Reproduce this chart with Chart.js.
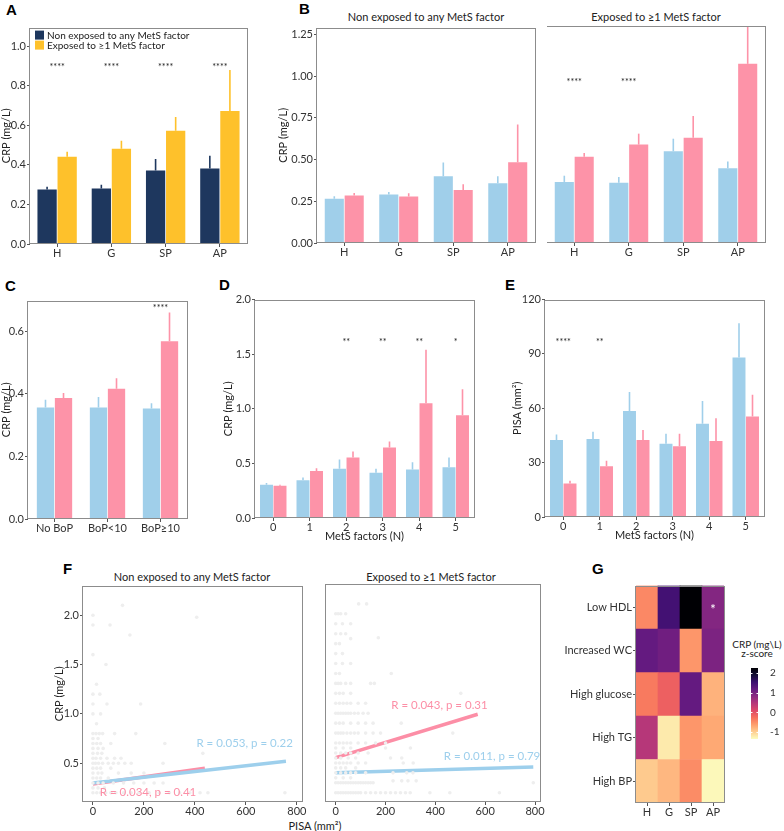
<!DOCTYPE html>
<html>
<head>
<meta charset="utf-8">
<script src="https://cdn.jsdelivr.net/npm/chart.js@4.4.1/dist/chart.umd.min.js"></script>
<style>
body { margin: 0; background: #fff; width: 784px; height: 831px; position: relative; overflow: hidden; font-family: Lato, sans-serif; }
canvas { position: absolute; }
.lbl { position: absolute; font: bold 15px "Liberation Sans", Arial, sans-serif; line-height: 1; color: #000; }
.ttl { position: absolute; font: 11px Lato, sans-serif; line-height: 1; color: #222; white-space: nowrap; transform: translateX(-50%); }
</style>
</head>
<body>
<div class="lbl" style="left:6px;top:2px">A</div>
<div class="lbl" style="left:299px;top:1px">B</div>
<div class="lbl" style="left:5px;top:278px">C</div>
<div class="lbl" style="left:219px;top:277px">D</div>
<div class="lbl" style="left:505px;top:277px">E</div>
<div class="lbl" style="left:63px;top:561px">F</div>
<div class="lbl" style="left:592px;top:561px">G</div>

<div class="ttl" style="left:426px;top:11px">Non exposed to any MetS factor</div>
<div class="ttl" style="left:656px;top:11px">Exposed to ≥1 MetS factor</div>
<div class="ttl" style="left:192px;top:571px">Non exposed to any MetS factor</div>
<div class="ttl" style="left:431px;top:571px">Exposed to ≥1 MetS factor</div>
<div class="ttl" style="left:315px;top:820px">PISA (mm²)</div>
<div class="ttl" style="left:757px;top:639px;font-size:10px">CRP (mg\L)</div>
<div class="ttl" style="left:757px;top:648px;font-size:10px">z-score</div>

<canvas id="chartA"></canvas>
<canvas id="chartBNon"></canvas>
<canvas id="chartBExp"></canvas>
<canvas id="chartC"></canvas>
<canvas id="chartD"></canvas>
<canvas id="chartE"></canvas>
<canvas id="chartFNon"></canvas>
<canvas id="chartFExp"></canvas>
<canvas id="chartG"></canvas>
<canvas id="chartGScale"></canvas>

<script>
// ---------- data ----------
var sites = ['H', 'G', 'SP', 'AP'];

// A: CRP by site, non exposed vs exposed
var nonExpA = [0.276, 0.281, 0.372, 0.382];
var nonExpErrA = [0.29, 0.30, 0.43, 0.447];
var expA = [0.442, 0.482, 0.573, 0.673];
var expErrA = [0.467, 0.523, 0.643, 0.88];
var starsA = ['****', '****', '****', '****'];

// B: blue / pink groups within each exposure panel
var bNonBlue = [0.265, 0.29, 0.40, 0.358];
var bNonBlueErr = [0.28, 0.305, 0.482, 0.40];
var bNonPink = [0.285, 0.278, 0.317, 0.483];
var bNonPinkErr = [0.30, 0.298, 0.352, 0.71];
var bExpBlue = [0.363, 0.358, 0.545, 0.445];
var bExpBlueErr = [0.40, 0.393, 0.62, 0.485];
var bExpPink = [0.512, 0.585, 0.625, 1.065];
var bExpPinkErr = [0.535, 0.65, 0.755, 1.45];
var starsBExp = ['****', '****', '', ''];

// C: bleeding on probing
var bopGroups = ['No BoP', 'BoP<10', 'BoP≥10'];
var cBlue = [0.356, 0.356, 0.353];
var cBlueErr = [0.381, 0.39, 0.37];
var cPink = [0.387, 0.416, 0.568];
var cPinkErr = [0.403, 0.45, 0.66];
var starsC = ['', '', '****'];

// D, E: by number of MetS factors
var metsCounts = ['0', '1', '2', '3', '4', '5'];
var dBlue = [0.305, 0.345, 0.45, 0.415, 0.445, 0.465];
var dBlueErr = [0.32, 0.37, 0.535, 0.45, 0.51, 0.555];
var dPink = [0.295, 0.43, 0.555, 0.645, 1.05, 0.94];
var dPinkErr = [0.305, 0.455, 0.61, 0.70, 1.54, 1.18];
var starsD = ['', '', '**', '**', '**', '*'];
var eBlue = [42.5, 43, 58.5, 40.5, 51.5, 88];
var eBlueErr = [45.5, 47, 69, 46, 64, 107];
var ePink = [18.5, 28, 42.5, 39, 42, 55.5];
var ePinkErr = [20, 31, 48, 46, 54.5, 67.5];
var starsE = ['****', '**', '', '', '', ''];

// tick labels
var ticksA = [0, 0.2, 0.4, 0.6, 0.8, 1.0];
var ticksB = [0, 0.25, 0.5, 0.75, 1.0, 1.25];
var ticksC = [0, 0.2, 0.4, 0.6];
var ticksD = [0, 0.5, 1.0, 1.5, 2.0];
var ticksE = [0, 30, 60, 90, 120];
var ticksFx = [0, 200, 400, 600, 800];
var ticksFy = [0.5, 1.0, 1.5, 2.0];
var ticksScale = [-1, 0, 1, 2];

// F: PISA vs CRP, [PISA, CRP]
var nonExpPoints = [
  [0, 2.0], [116, 2.1], [0, 1.9], [67, 1.9], [407, 1.98], [145, 1.8], [0, 1.6], [51, 1.5], [14, 1.3],
  [0, 1.2], [27, 1.2], [0, 1.1], [55, 1.1], [187, 1.1], [0, 1.0], [30, 1.0], [14, 0.9],
  [0, 0.8], [12, 0.8], [25, 0.8], [38, 0.8], [85, 0.8], [168, 0.8], [0, 0.75], [20, 0.75],
  [0, 0.7], [15, 0.7], [30, 0.7], [70, 0.7], [282, 0.7], [0, 0.65], [20, 0.65], [40, 0.65],
  [0, 0.6], [18, 0.6], [35, 0.6], [431, 0.6],
  [0, 0.55], [12, 0.55], [30, 0.55], [55, 0.55], [85, 0.55], [110, 0.55],
  [0, 0.5], [10, 0.5], [22, 0.5], [38, 0.5], [60, 0.5], [80, 0.5], [100, 0.5], [125, 0.5], [150, 0.5], [275, 0.5],
  [0, 0.45], [15, 0.45], [30, 0.45], [70, 0.45],
  [0, 0.4], [20, 0.4], [35, 0.4], [100, 0.4], [150, 0.4], [200, 0.4],
  [0, 0.35], [15, 0.35], [30, 0.35], [60, 0.35],
  [0, 0.3], [20, 0.3], [40, 0.3], [80, 0.3], [120, 0.3], [160, 0.3], [200, 0.3], [240, 0.3], [275, 0.3],
  [0, 0.25], [20, 0.25], [45, 0.25],
  [0, 0.2], [15, 0.2], [30, 0.2], [50, 0.2], [70, 0.2], [90, 0.2], [120, 0.2], [150, 0.2], [180, 0.2],
  [220, 0.2], [260, 0.2], [300, 0.2], [340, 0.2], [380, 0.2], [420, 0.2], [451, 0.2], [753, 0.2]
];
var expPoints = [
  [92, 2.1], [124, 2.1], [0, 2.0], [10, 2.0], [20, 2.0], [40, 2.0], [0, 1.9], [27, 1.9], [60, 1.9],
  [0, 1.8], [20, 1.8], [40, 1.8], [171, 1.76], [60, 1.75], [0, 1.7], [15, 1.7], [0, 1.6], [27, 1.6],
  [0, 1.5], [27, 1.5], [60, 1.5], [0, 1.4], [15, 1.4], [223, 1.4],
  [0, 1.3], [10, 1.3], [20, 1.3], [40, 1.3], [60, 1.3], [140, 1.3], [155, 1.3],
  [0, 1.2], [15, 1.2], [30, 1.2], [60, 1.2], [502, 1.2],
  [0, 1.1], [15, 1.1], [30, 1.1], [45, 1.1], [60, 1.1], [90, 1.1], [120, 1.1],
  [0, 1.0], [10, 1.0], [20, 1.0], [30, 1.0], [40, 1.0], [50, 1.0], [60, 1.0], [75, 1.0], [90, 1.0], [110, 1.0], [130, 1.0],
  [0, 0.9], [15, 0.9], [30, 0.9], [60, 0.9], [90, 0.9], [120, 0.9], [150, 0.9], [263, 0.9],
  [0, 0.8], [10, 0.8], [20, 0.8], [30, 0.8], [45, 0.8], [60, 0.8], [75, 0.8], [90, 0.8], [120, 0.8], [150, 0.8], [180, 0.8], [470, 0.8],
  [0, 0.7], [15, 0.7], [30, 0.7], [45, 0.7], [60, 0.7], [90, 0.7], [120, 0.7], [160, 0.7], [200, 0.7],
  [0, 0.65], [30, 0.65], [60, 0.65], [200, 0.65], [300, 0.65],
  [0, 0.6], [20, 0.6], [40, 0.6], [60, 0.6], [90, 0.6], [130, 0.6],
  [0, 0.55], [20, 0.55], [50, 0.55], [80, 0.55], [220, 0.55], [265, 0.55],
  [0, 0.5], [15, 0.5], [30, 0.5], [45, 0.5], [60, 0.5], [90, 0.5], [120, 0.5], [271, 0.5], [311, 0.5],
  [0, 0.45], [20, 0.45], [40, 0.45], [80, 0.45],
  [0, 0.4], [20, 0.4], [40, 0.4], [60, 0.4], [80, 0.4], [120, 0.4], [230, 0.4], [285, 0.4], [310, 0.4],
  [0, 0.35], [30, 0.35], [60, 0.35], [230, 0.32], [265, 0.32], [290, 0.32], [323, 0.32],
  [0, 0.3], [10, 0.3], [20, 0.3], [30, 0.3], [40, 0.3], [50, 0.3], [60, 0.3], [70, 0.3], [80, 0.3], [90, 0.3],
  [100, 0.3], [110, 0.3], [120, 0.3], [130, 0.3], [140, 0.3], [150, 0.3], [793, 0.3],
  [0, 0.2], [10, 0.2], [20, 0.2], [30, 0.2], [40, 0.2], [50, 0.2], [60, 0.2], [70, 0.2], [80, 0.2], [90, 0.2],
  [100, 0.2], [120, 0.2], [140, 0.2], [160, 0.2], [180, 0.2], [200, 0.2], [220, 0.2], [240, 0.2], [260, 0.2],
  [280, 0.2], [299, 0.2], [378, 0.2], [458, 0.2], [657, 0.2]
];
// fitted lines: start / end points
var nonExpFitBlue = [[0, 0.30], [757, 0.52]];
var nonExpFitPink = [[0, 0.29], [439, 0.45]];
var expFitBlue = [[0, 0.40], [793, 0.46]];
var expFitPink = [[0, 0.553], [570, 0.99]];

// G: CRP z-score heatmap
var heatRows = ['Low HDL', 'Increased WC', 'High glucose', 'High TG', 'High BP'];
var zLowHDL = [-0.45, 1.47, 2.26, 0.9];
var zIncreasedWC = [1.18, 1.07, -0.56, 0.96];
var zHighGlucose = [-0.34, -0.12, 1.18, -0.77];
var zHighTG = [0.46, -1.2, -0.56, -0.7];
var zHighBP = [-0.95, -0.81, -0.48, -1.31];
var heatStars = ['', '', '', '*'];
var zMin = -1.35, zMax = 2.26;

// ---------- style ----------
var NAVY = '#1e375e', GOLD = '#fec12b', BLUE = '#a0cfea', PINK = '#fd93a8';
var magmaStops = ['#000004', '#140e36', '#3b0f70', '#641a80', '#8c2981', '#b73779',
  '#de4968', '#f7705c', '#fe9f6d', '#fecf92', '#fcfdbf'];

Chart.defaults.font.family = 'Lato, sans-serif';
Chart.defaults.font.size = 11;
Chart.defaults.color = '#333';
Chart.defaults.animation = false;

function hexToRgb(h) {
  return [parseInt(h.substr(1, 2), 16), parseInt(h.substr(3, 2), 16), parseInt(h.substr(5, 2), 16)];
}

magma = function (z) {
  var t = (zMax - z) / (zMax - zMin);
  t = Math.max(0, Math.min(1, t));
  var p = t * (magmaStops.length - 1);
  var i = Math.min(magmaStops.length - 2, Math.floor(p));
  var f = p - i;
  var a = hexToRgb(magmaStops[i]), b = hexToRgb(magmaStops[i + 1]);
  var c = a.map(function (v, k) { return Math.round(v + (b[k] - v) * f); });
  return 'rgb(' + c.join(',') + ')';
}

setupCanvas = function (id, rect, m) {
  // rect = plot area [l, t, r, b]; m = [y axis width, pad top, pad right, x axis height]
  var c = document.getElementById(id);
  var left = rect[0] - m[0], top = rect[1] - m[1];
  var w = rect[2] + m[2] - left, h = rect[3] + m[3] - top;
  c.width = w; c.height = h;
  c.style.left = left + 'px'; c.style.top = top + 'px';
  c.style.width = w + 'px'; c.style.height = h + 'px';
  return c;
}

// ---------- plugins ----------
var framePlugin = {
  id: 'frame',
  afterDraw: function (chart) {
    var a = chart.chartArea, ctx = chart.ctx;
    ctx.save();
    ctx.strokeStyle = '#8c8c8c';
    ctx.lineWidth = 1;
    ctx.strokeRect(Math.round(a.left) - 0.5, Math.round(a.top) + 0.5,
      Math.round(a.right - a.left) + 1, Math.round(a.bottom - a.top) - 1);
    ctx.restore();
  }
};

var errorBars = {
  id: 'errorBars',
  afterDatasetsDraw: function (chart) {
    var ctx = chart.ctx, a = chart.chartArea, y = chart.scales.y;
    ctx.save();
    ctx.beginPath();
    ctx.rect(a.left, a.top, a.right - a.left, a.bottom - a.top);
    ctx.clip();
    chart.data.datasets.forEach(function (ds, i) {
      if (!ds.errTop) return;
      var meta = chart.getDatasetMeta(i);
      ctx.strokeStyle = ds.backgroundColor;
      ctx.lineWidth = 1.6;
      meta.data.forEach(function (bar, j) {
        ctx.beginPath();
        ctx.moveTo(bar.x, bar.y);
        ctx.lineTo(bar.x, y.getPixelForValue(ds.errTop[j]));
        ctx.stroke();
      });
    });
    ctx.restore();
  }
};

var starsPlugin = {
  id: 'stars',
  afterDatasetsDraw: function (chart, args, opts) {
    if (!opts.labels) return;
    var ctx = chart.ctx;
    ctx.save();
    ctx.fillStyle = opts.color || '#222';
    ctx.font = (opts.size || 9) + 'px Lato, sans-serif';
    ctx.textAlign = 'center';
    ctx.textBaseline = 'alphabetic';
    for (var i = 0; i < opts.labels.length; i++) {
      if (!opts.labels[i]) continue;
      var x = chart.scales.x.getPixelForValue(i);
      var yy = chart.scales.y.getPixelForValue(opts.y);
      ctx.fillText(opts.labels[i], x, yy + (opts.shift || 5));
    }
    ctx.restore();
  }
};

var insideLegend = {
  id: 'insideLegend',
  afterDraw: function (chart, args, opts) {
    if (!opts.show) return;
    var a = chart.chartArea, ctx = chart.ctx;
    ctx.save();
    chart.data.datasets.forEach(function (ds, i) {
      var y = a.top + 3 + i * 10;
      ctx.fillStyle = ds.backgroundColor;
      ctx.fillRect(a.left + 5, y, 9, 9);
      ctx.fillStyle = '#222';
      ctx.font = '10px Lato, sans-serif';
      ctx.textBaseline = 'middle';
      ctx.fillText(ds.label, a.left + 17, y + 5);
    });
    ctx.restore();
  }
};

var fitNotes = {
  id: 'fitNotes',
  afterDatasetsDraw: function (chart) {
    var ctx = chart.ctx;
    ctx.save();
    ctx.font = '11.5px Lato, sans-serif';
    ctx.textBaseline = 'middle';
    chart.data.datasets.forEach(function (ds) {
      if (!ds.note) return;
      ctx.fillStyle = ds.borderColor;
      ctx.textAlign = ds.note.align;
      ctx.fillText(ds.note.text, chart.scales.x.getPixelForValue(ds.note.x),
        chart.scales.y.getPixelForValue(ds.note.y));
    });
    ctx.restore();
  }
};

var gradientBar = {
  id: 'gradientBar',
  beforeDatasetsDraw: function (chart) {
    var a = chart.chartArea, ctx = chart.ctx;
    var g = ctx.createLinearGradient(0, a.top, 0, a.bottom);
    magmaStops.forEach(function (c, i) { g.addColorStop(i / (magmaStops.length - 1), c); });
    ctx.save();
    ctx.fillStyle = g;
    ctx.fillRect(a.left, a.top, a.right - a.left, a.bottom - a.top);
    ctx.strokeStyle = '#fff';
    ctx.lineWidth = 1;
    chart.scales.y.ticks.forEach(function (t) {
      var yy = Math.round(chart.scales.y.getPixelForValue(t.value)) + 0.5;
      ctx.beginPath(); ctx.moveTo(a.left, yy); ctx.lineTo(a.left + 1.5, yy); ctx.stroke();
      ctx.beginPath(); ctx.moveTo(a.right - 1.5, yy); ctx.lineTo(a.right, yy); ctx.stroke();
    });
    ctx.restore();
  }
};

// ---------- axis helpers ----------
yAxis = function (cfg) {
  var show = cfg.width > 0;
  return {
    min: cfg.min, max: cfg.max, stacked: !!cfg.stacked, position: cfg.position || 'left',
    afterFit: function (s) { s.width = cfg.width; },
    afterBuildTicks: function (s) { s.ticks = cfg.ticks.map(function (v) { return { value: v }; }); },
    border: { display: false },
    grid: { display: show && !cfg.noTicks, drawOnChartArea: false, tickLength: 3, color: '#555' },
    ticks: { display: show, padding: 1, color: '#333', font: { size: cfg.size || 11 }, callback: cfg.format },
    title: { display: !!cfg.title, text: cfg.title, padding: 0, color: '#222', font: { size: 11 } }
  };
}

xCategory = function (height, title, stacked) {
  return {
    stacked: !!stacked,
    afterFit: function (s) { s.height = height; },
    border: { display: false },
    grid: { display: true, drawOnChartArea: false, offset: false, tickLength: 3, color: '#555' },
    ticks: { padding: 0, color: '#333', font: { size: 11 }, maxRotation: 0, autoSkip: false },
    title: { display: !!title, text: title, padding: 0, color: '#222', font: { size: 11 } }
  };
}

barChart = function (id, rect, m, labels, series, yCfg, xTitle, stars) {
  var canvas = setupCanvas(id, rect, m);
  yCfg.width = m[0];
  var datasets = series.map(function (s) {
    return {
      label: s.label, data: s.values, errTop: s.err, backgroundColor: s.color,
      categoryPercentage: s.catPct, barPercentage: 0.96, borderWidth: 0
    };
  });
  return new Chart(canvas, {
    type: 'bar',
    data: { labels: labels, datasets: datasets },
    options: {
      responsive: false,
      layout: { padding: { left: 0, top: m[1], right: m[2], bottom: 0 } },
      scales: { x: xCategory(m[3], xTitle), y: yAxis(yCfg) },
      plugins: {
        legend: { display: false }, tooltip: { enabled: false },
        stars: stars || {},
        insideLegend: { show: id === 'chartA' }
      }
    },
    plugins: [errorBars, starsPlugin, insideLegend, framePlugin]
  });
}

scatterChart = function (id, rect, m, points, fits) {
  var canvas = setupCanvas(id, rect, m);
  var datasets = [{
    data: points.map(function (p) { return { x: p[0], y: p[1] }; }),
    backgroundColor: '#eeeeee', borderWidth: 0, pointRadius: 1.8
  }];
  fits.forEach(function (f) {
    datasets.push({
      type: 'line', data: f.line.map(function (p) { return { x: p[0], y: p[1] }; }),
      borderColor: f.color, borderWidth: 3.5, pointRadius: 0, fill: false, note: f.note
    });
  });
  return new Chart(canvas, {
    type: 'scatter',
    data: { datasets: datasets },
    options: {
      responsive: false,
      layout: { padding: { left: 0, top: m[1], right: m[2], bottom: 0 } },
      scales: {
        x: {
          type: 'linear', min: -39, max: 820,
          afterFit: function (s) { s.height = m[3]; },
          afterBuildTicks: function (s) { s.ticks = ticksFx.map(function (v) { return { value: v }; }); },
          border: { display: false },
          grid: { display: true, drawOnChartArea: false, tickLength: 3, color: '#555' },
          ticks: { padding: 0, color: '#333', font: { size: 11 }, maxRotation: 0 }
        },
        y: yAxis({
          width: m[0], min: 0.107, max: 2.3, ticks: ticksFy, title: m[0] ? 'CRP (mg/L)' : '',
          format: function (v) { return v.toFixed(1); }
        })
      },
      plugins: { legend: { display: false }, tooltip: { enabled: false } }
    },
    plugins: [fitNotes, framePlugin]
  });
}

// ---------- panels ----------
var fmt1 = function (v) { return v.toFixed(1); };
var fmt2 = function (v) { return v.toFixed(2); };
var fmt0 = function (v) { return String(v); };

barChart('chartA', [30, 26, 247, 244], [30, 6, 4, 16], sites, [
  { label: 'Non exposed to any MetS factor', values: nonExpA, err: nonExpErrA, color: NAVY, catPct: 0.74 },
  { label: 'Exposed to ≥1 MetS factor', values: expA, err: expErrA, color: GOLD, catPct: 0.74 }
], { min: 0, max: 1.095, ticks: ticksA, title: 'CRP (mg/L)', format: fmt1 }, '',
  { labels: starsA, y: 0.905 });

barChart('chartBNon', [317, 26, 535, 243], [40, 6, 4, 16], sites, [
  { values: bNonBlue, err: bNonBlueErr, color: BLUE, catPct: 0.73 },
  { values: bNonPink, err: bNonPinkErr, color: PINK, catPct: 0.73 }
], { min: 0, max: 1.29, ticks: ticksB, title: 'CRP (mg/L)', format: fmt2 }, '');

barChart('chartBExp', [547, 26, 765, 243], [0, 6, 4, 16], sites, [
  { values: bExpBlue, err: bExpBlueErr, color: BLUE, catPct: 0.73 },
  { values: bExpPink, err: bExpPinkErr, color: PINK, catPct: 0.73 }
], { min: 0, max: 1.29, ticks: ticksB, format: fmt2 }, '',
  { labels: starsBExp, y: 0.97 });

barChart('chartC', [28, 299, 187, 519], [28, 6, 4, 16], bopGroups, [
  { values: cBlue, err: cBlueErr, color: BLUE, catPct: 0.68 },
  { values: cPink, err: cPinkErr, color: PINK, catPct: 0.68 }
], { min: 0, max: 0.698, ticks: ticksC, title: 'CRP (mg/L)', format: fmt1 }, '',
  { labels: starsC, y: 0.68 });

barChart('chartD', [255, 298, 474, 518], [33, 6, 4, 25], metsCounts, [
  { values: dBlue, err: dBlueErr, color: BLUE, catPct: 0.74 },
  { values: dPink, err: dPinkErr, color: PINK, catPct: 0.74 }
], { min: 0, max: 2.0, ticks: ticksD, title: 'CRP (mg/L)', format: fmt1 }, 'MetS factors (N)',
  { labels: starsD, y: 1.63 });

barChart('chartE', [545, 298, 764, 517], [34, 6, 4, 25], metsCounts, [
  { values: eBlue, err: eBlueErr, color: BLUE, catPct: 0.74 },
  { values: ePink, err: ePinkErr, color: PINK, catPct: 0.74 }
], { min: 0, max: 120, ticks: ticksE, title: 'PISA (mm²)', format: fmt0 }, 'MetS factors (N)',
  { labels: starsE, y: 97.5 });

scatterChart('chartFNon', [83, 584, 302, 802], [30, 6, 10, 14], nonExpPoints, [
  { line: nonExpFitBlue, color: '#9dcfec', note: { text: 'R = 0.053, p = 0.22', x: 784, y: 0.70, align: 'right' } },
  { line: nonExpFitPink, color: '#fc8ea6', note: { text: 'R = 0.034, p = 0.41', x: 27, y: 0.21, align: 'left' } }
]);

scatterChart('chartFExp', [322, 584, 540, 802], [0, 6, 10, 14], expPoints, [
  { line: expFitBlue, color: '#9dcfec', note: { text: 'R = 0.011, p = 0.79', x: 434, y: 0.57, align: 'left' } },
  { line: expFitPink, color: '#fc8ea6', note: { text: 'R = 0.043, p = 0.31', x: 223, y: 1.08, align: 'left' } }
]);

// heatmap: stacked unit cells, bottom row first
var zRows = [zLowHDL, zIncreasedWC, zHighGlucose, zHighTG, zHighBP];
var heatCanvas = setupCanvas('chartG', [636, 584, 724, 803], [80, 6, 4, 16]);
var heatDatasets = [];
for (var r = zRows.length - 1; r >= 0; r--) {
  heatDatasets.push({
    label: heatRows[r],
    data: zRows[r].map(function () { return 1; }),
    backgroundColor: zRows[r].map(magma),
    categoryPercentage: 1, barPercentage: 1, borderWidth: 0
  });
}
new Chart(heatCanvas, {
  type: 'bar',
  data: { labels: sites, datasets: heatDatasets },
  options: {
    responsive: false,
    layout: { padding: { left: 0, top: 6, right: 4, bottom: 0 } },
    scales: {
      x: xCategory(16, '', true),
      y: yAxis({
        width: 80, min: 0, max: 5, stacked: true, ticks: [0.5, 1.5, 2.5, 3.5, 4.5],
        format: function (v) { return heatRows[heatRows.length - 1 - Math.floor(v)]; }
      })
    },
    plugins: {
      legend: { display: false }, tooltip: { enabled: false },
      stars: { labels: heatStars, y: 4.5, color: '#fff', size: 13, shift: 7 }
    }
  },
  plugins: [starsPlugin, framePlugin]
});

// colour bar for the heatmap
var scaleCanvas = setupCanvas('chartGScale', [751, 662, 758, 745], [0, 4, 22, 4]);
new Chart(scaleCanvas, {
  type: 'scatter',
  data: { datasets: [{ data: [] }] },
  options: {
    responsive: false,
    layout: { padding: { left: 0, top: 4, right: 0, bottom: 4 } },
    scales: {
      x: { display: false, min: 0, max: 1 },
      y: {
        position: 'right', min: zMin, max: zMax,
        afterFit: function (s) { s.width = 22; },
        afterBuildTicks: function (s) { s.ticks = ticksScale.map(function (v) { return { value: v }; }); },
        border: { display: false },
        grid: { display: false },
        ticks: { padding: 4, color: '#333', font: { size: 10 } }
      }
    },
    plugins: { legend: { display: false }, tooltip: { enabled: false } }
  },
  plugins: [gradientBar]
});
</script>
</body>
</html>
